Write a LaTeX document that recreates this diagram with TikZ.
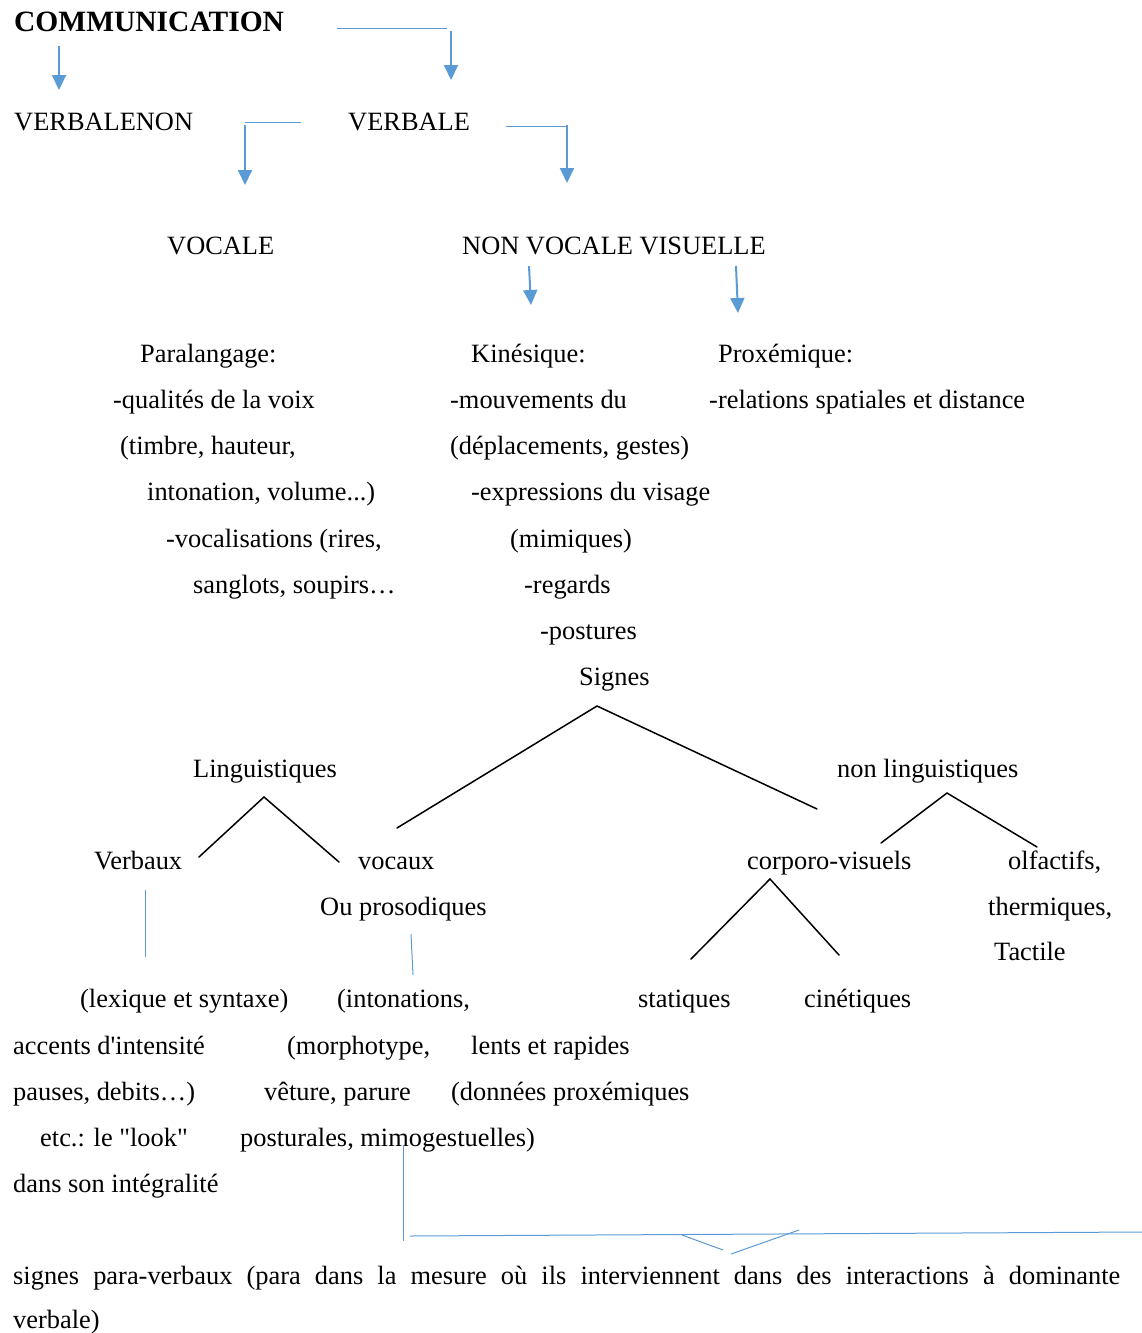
\documentclass[tikz,border=0pt]{standalone}
\usepackage{fontspec}
\setmainfont{Liberation Serif}[Ligatures=TeXOff]
\usepackage{tikz}
\usetikzlibrary{arrows.meta,positioning,calc}
\definecolor{wordblue}{HTML}{5B9BD5}
\newcommand{\DiagramFont}{\fontsize{26.4pt}{31pt}\selectfont}
\newcommand{\DiagramTitleFont}{\fontsize{29.5pt}{34pt}\selectfont\bfseries}

\begin{document}
\begin{tikzpicture}[x=1pt,y=-1pt]
  \tikzset{
    diagram word/.style={anchor=base west, inner sep=0pt, font=\DiagramFont},
    diagram arrow/.style={-{Triangle[width=14pt,length=15pt]}, draw=wordblue,
      fill=wordblue, line width=2pt},
    diagram rule/.style={draw=wordblue, line width=1pt},
    diagram branch/.style={draw=black, line width=1.5pt, line cap=round}
  }
  \useasboundingbox (0,0) rectangle (1142,1333);

  % titles and words, left edge / centre line of each
  \node[diagram word, font=\DiagramTitleFont] (comm-title) at (14,31) {COMMUNICATION};
  \foreach \name/\x/\y/\words in {
      verbalenon/14/121/{VERBALENON},
      verbale/348/121/{VERBALE},
      vocale/167/245/{VOCALE},
      nonvocale/462/245/{NON VOCALE VISUELLE},
      para-head/140/353/{Paralangage:},
      para-1/113/399/{-qualités de la voix},
      para-2/120/445/{(timbre, hauteur,},
      para-3/147/491/{intonation, volume...)},
      para-4/166/538/{-vocalisations (rires,},
      para-5/193/584/{sanglots, soupirs…},
      kine-head/471/353/{Kinésique:},
      kine-1/450/399/{-mouvements du},
      kine-2/450/445/{(déplacements, gestes)},
      kine-3/471/491/{-expressions du visage},
      kine-4/510/538/{(mimiques)},
      kine-5/524/584/{-regards},
      kine-6/540/630/{-postures},
      prox-head/718/353/{Proxémique:},
      prox-1/709/399/{-relations spatiales et distance},
      signes/579/676/{Signes},
      ling/193/768/{Linguistiques},
      nonling/837/768/{non linguistiques},
      verbaux/94/860/{Verbaux},
      vocaux/358/860/{vocaux},
      prosod/320/906/{Ou prosodiques},
      corporo/747/860/{corporo-visuels},
      olfact/1008/860/{olfactifs,},
      thermiq/988/906/{thermiques,},
      tactile/994/951/{Tactile},
      statiq/638/998/{statiques},
      cinetiq/804/998/{cinétiques},
      lexique/80/998/{(lexique et syntaxe)},
      intonat/337/998/{(intonations,},
      accents/13/1045/{accents d'intensité},
      morpho/287/1045/{(morphotype,},
      lents/471/1045/{lents et rapides},
      pauses/13/1091/{pauses, debits…)},
      veture/264/1091/{vêture, parure},
      donnees/451/1091/{(données proxémiques},
      look/40/1137/{etc.: le "look"},
      postur/240/1137/{posturales, mimogestuelles)},
      integral/13/1183/{dans son intégralité},
      verbale-end/13/1319/{verbale)}} {
    \node[diagram word] (\name) at (\x,\y+9) {\words};
  }
  \node[diagram word] (paraverb) at (13,1284)
    {\makebox[1107pt][s]{signes para-verbaux (para dans la mesure où ils interviennent dans des interactions à dominante}};

  % blue arrows
  \foreach \k/\xa/\ya/\xb/\yb in {comm-left/59/46/59/90, comm-right/451/31/451/80,
      verbale-left/245/125/245/185, verbale-right/567/125/567/183,
      kine-arrow/529/266/531/305, prox-arrow/736/266/738/313} {
    \coordinate (\k-start) at (\xa,\ya);
    \coordinate (\k-end) at (\xb,\yb);
    \draw[diagram arrow] (\k-start) -- (\k-end);
  }
  % blue rules
  \foreach \k/\xa/\ya/\xb/\yb in {comm-rule/337/28/447/28, verbale-rule-l/245/122/301/122,
      verbale-rule-r/506/126/567/126, verbaux-rule/145/890/145/957,
      prosod-rule/411/934/413/975, para-rule-v/403/1145/403/1241,
      para-rule-h/410/1236/1142/1232, para-vee-l/682/1235/723/1250,
      para-vee-r/731/1254/799/1230} {
    \coordinate (\k-start) at (\xa,\ya);
    \coordinate (\k-end) at (\xb,\yb);
    \draw[diagram rule] (\k-start) -- (\k-end);
  }

  % black branches
  \coordinate (signes-apex) at (597,706);
  \coordinate (signes-left) at (397,828);
  \coordinate (signes-right) at (817,809);
  \coordinate (ling-apex) at (264,797);
  \coordinate (ling-left) at (199,857);
  \coordinate (ling-right) at (339,862);
  \coordinate (nonling-apex) at (947,793);
  \coordinate (nonling-left) at (881,843);
  \coordinate (nonling-right) at (1037,847);
  \coordinate (corporo-apex) at (770,879);
  \coordinate (corporo-left) at (691,959);
  \coordinate (corporo-right) at (839,955);
  \foreach \tree in {signes,ling,nonling,corporo} {
    \draw[diagram branch] (\tree-left) -- (\tree-apex) -- (\tree-right);
  }
\end{tikzpicture}
\end{document}
